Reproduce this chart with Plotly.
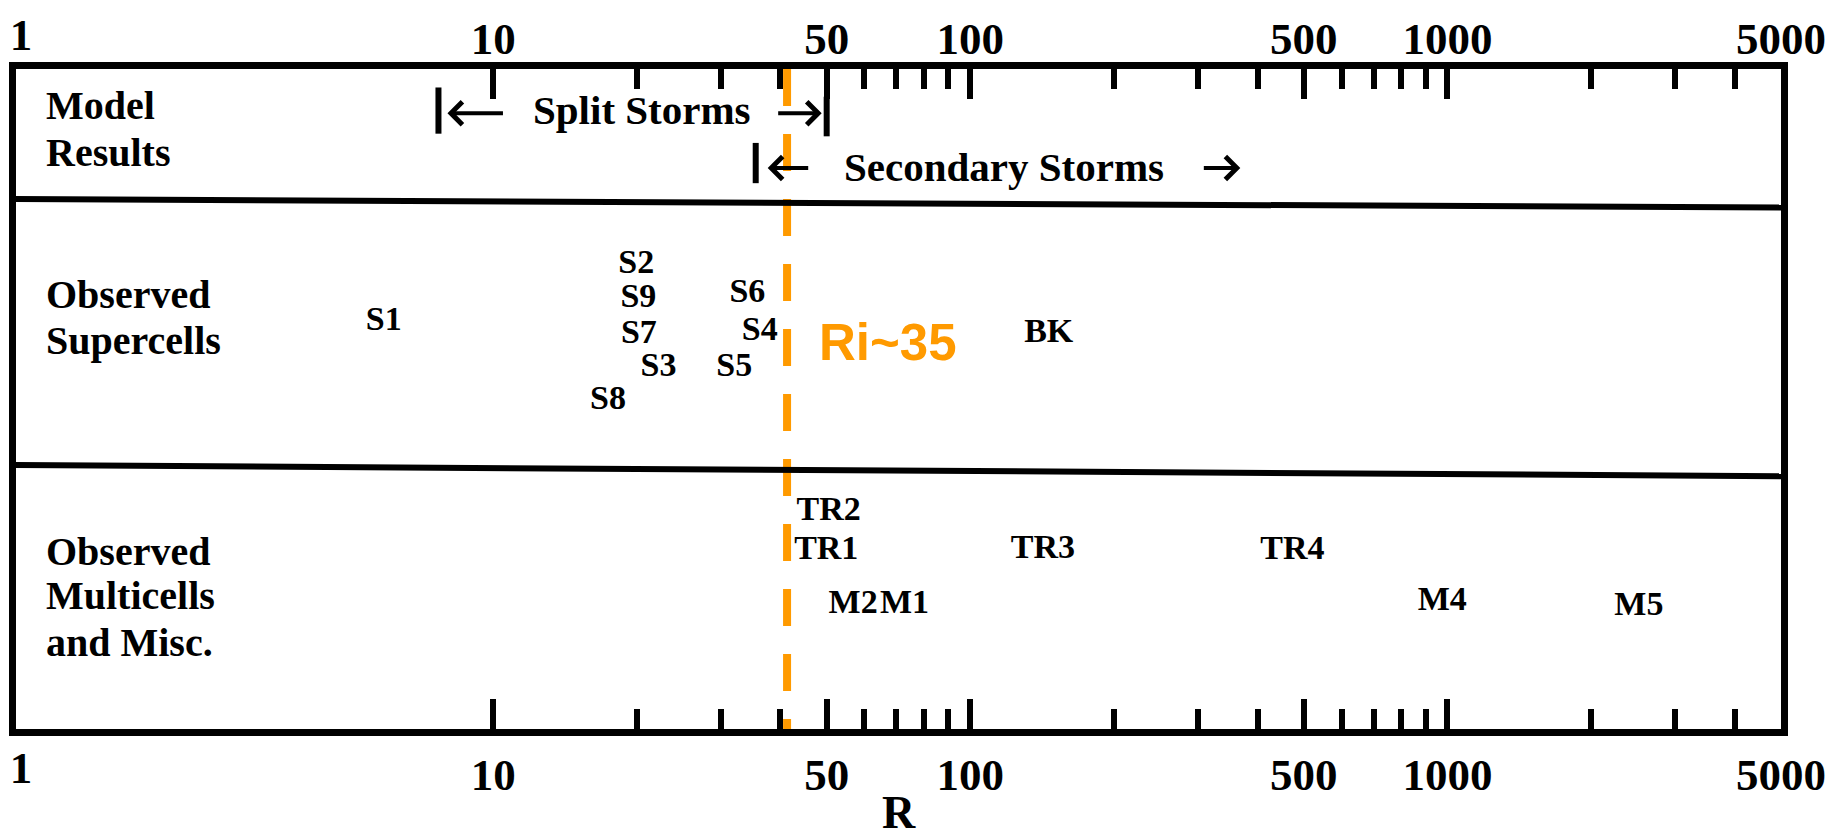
import math
import plotly.graph_objects as go

# ---------------- data ----------------
AXIS_MIN, AXIS_MAX = 1, 5000
TICK_LABEL_VALUES = [1, 10, 50, 100, 500, 1000, 5000]
MINOR_TICKS = [20, 30, 40, 60, 70, 80, 90, 200, 300, 400, 600, 700, 800, 900,
               2000, 3000, 4000]
AXIS_TITLE = "R"

SUPERCELL_NAMES = ["S1", "S2", "S9", "S6", "S7", "S4", "S3", "S5", "S8", "BK"]
SUPERCELL_R = [5.9, 19.95, 20.15, 34.1, 20.2, 36.2, 22.2, 32.0, 17.4, 146]
SUPERCELL_LEVEL = [61.7, 70.4, 65.2, 66.0, 59.8, 60.2, 54.7, 54.7, 49.7, 59.9]

MULTICELL_NAMES = ["TR2", "TR1", "TR3", "TR4", "M2", "M1", "M4", "M5"]
MULTICELL_R = [50.5, 49.9, 142, 473, 56.8, 72.8, 975, 2518]
MULTICELL_LEVEL = [33.0, 27.0, 27.2, 27.1, 18.9, 18.9, 19.3, 18.5]

MODEL_TEXT = ["Split Storms", "Secondary Storms"]
MODEL_TEXT_R = [20.5, 117.8]
SPLIT_STORMS_RANGE = [7.68, 50]
SECONDARY_STORMS_START = 35.5
SECONDARY_ARROW_END = 368
RI_CRITICAL = 41.3
RI_LABEL = "Ri~35"

ROW_LABEL_LINES = ["Model", "Results", "Observed", "Supercells",
                   "Observed", "Multicells", "and Misc."]
ROW_LABEL_LEVEL = [94.5, 87.4, 65.8, 58.8, 26.9, 20.2, 13.1]

# row layout (vertical levels, 0 = bottom frame, 100 = top frame)
SPLIT_LEVEL, SPLIT_TEXT_LEVEL = 93.3, 93.8
SECONDARY_LEVEL, SECONDARY_TEXT_LEVEL = 85.0, 85.15
DIVIDERS = [(80.3, 79.0), (40.0, 38.3)]

SERIF = "Liberation Serif"
SANS = "Liberation Sans"
ORANGE = "#FF9A00"
BLACK = "black"

fig = go.Figure()

label_font = dict(family=SERIF, size=34, color=BLACK, weight="bold")
fig.add_trace(go.Scatter(
    x=SUPERCELL_R, y=SUPERCELL_LEVEL, mode="text", text=SUPERCELL_NAMES,
    textposition="middle center", textfont=label_font,
    hoverinfo="skip", showlegend=False))
fig.add_trace(go.Scatter(
    x=MULTICELL_R, y=MULTICELL_LEVEL, mode="text", text=MULTICELL_NAMES,
    textposition="middle center", textfont=label_font,
    hoverinfo="skip", showlegend=False))

# range bars of the model results
bar_line = dict(color=BLACK, width=6)
fig.add_trace(go.Scatter(x=[SPLIT_STORMS_RANGE[0]] * 2, y=[97.2, 90.2], mode="lines",
                         line=bar_line, hoverinfo="skip", showlegend=False))
fig.add_trace(go.Scatter(x=[SPLIT_STORMS_RANGE[1]] * 2, y=[95.8, 89.8], mode="lines",
                         line=bar_line, hoverinfo="skip", showlegend=False))
fig.add_trace(go.Scatter(x=[SECONDARY_STORMS_START] * 2, y=[88.8, 82.7], mode="lines",
                         line=bar_line, hoverinfo="skip", showlegend=False))

# critical Ri line
fig.add_trace(go.Scatter(x=[RI_CRITICAL] * 2, y=[100, 0], mode="lines",
                         line=dict(color=ORANGE, width=8, dash="37px,28px"),
                         hoverinfo="skip", showlegend=False))

# dummy traces so overlay axes are drawn
for ax in ["x2", "x3", "x4", "x5"]:
    fig.add_trace(go.Scatter(x=[10], y=[-50], xaxis=ax, mode="markers",
                             marker=dict(opacity=0), hoverinfo="skip", showlegend=False))

annotations = []
txt_font = dict(family=SERIF, size=41, color=BLACK, weight="bold")
for t, r, lvl in zip(MODEL_TEXT, MODEL_TEXT_R, [SPLIT_TEXT_LEVEL, SECONDARY_TEXT_LEVEL]):
    annotations.append(dict(x=math.log10(r), y=lvl, xref="x", yref="y", text=t,
                            showarrow=False, font=txt_font, xanchor="center", yanchor="middle"))

arrow_style = dict(showarrow=True, arrowhead=4, arrowsize=1.1, arrowwidth=4,
                   arrowcolor=BLACK, text="", xref="x", yref="y", ay=0)
annotations.append(dict(x=math.log10(SPLIT_STORMS_RANGE[0]), y=SPLIT_LEVEL, ax=66,
                        standoff=9, **arrow_style))
annotations.append(dict(x=math.log10(SPLIT_STORMS_RANGE[1]), y=SPLIT_LEVEL, ax=-50,
                        standoff=5, **arrow_style))
annotations.append(dict(x=math.log10(SECONDARY_STORMS_START), y=SECONDARY_LEVEL, ax=54,
                        standoff=12, **arrow_style))
annotations.append(dict(x=math.log10(SECONDARY_ARROW_END), y=SECONDARY_LEVEL, ax=-38,
                        standoff=0, **arrow_style))

annotations.append(dict(x=math.log10(RI_CRITICAL), y=58.6, xref="x", yref="y",
                        text=RI_LABEL, showarrow=False, xanchor="left", yanchor="middle",
                        xshift=30,
                        font=dict(family=SANS, size=51, color=ORANGE, weight="bold")))

for t, lvl in zip(ROW_LABEL_LINES, ROW_LABEL_LEVEL):
    annotations.append(dict(x=0, y=lvl, xref="paper", yref="y", text=t, showarrow=False,
                            xanchor="left", yanchor="middle", xshift=28,
                            font=dict(family=SERIF, size=40, color=BLACK, weight="bold")))

# axis title
annotations.append(dict(x=0.5, y=0, xref="paper", yref="paper", text=AXIS_TITLE,
                        showarrow=False, xanchor="center", yanchor="middle", yshift=-83,
                        font=dict(family=SERIF, size=46, color=BLACK, weight="bold")))

shapes = [dict(type="line", xref="paper", yref="y", x0=0, x1=1, y0=a, y1=b,
               line=dict(color=BLACK, width=6)) for a, b in DIVIDERS]

tick_font = dict(family=SERIF, size=45, color=BLACK, weight="bold")
xr = [math.log10(AXIS_MIN), math.log10(AXIS_MAX)]


def labels(keep):
    return [str(v) if v in keep else "" for v in TICK_LABEL_VALUES]


common = dict(type="log", range=xr, showgrid=False, zeroline=False, automargin=False,
              tickfont=tick_font, tickvals=TICK_LABEL_VALUES, ticklabeloverflow="allow")
rest = [10, 50, 100, 500, 1000, 5000]

fig.update_layout(
    # the page adds an 8px body margin, so the figure is 8px smaller than the window
    width=1840, height=831,
    margin=dict(l=8, r=67, t=61, b=110, autoexpand=False),
    paper_bgcolor="white", plot_bgcolor="white",
    showlegend=False, hovermode=False,
    xaxis=dict(ticktext=labels(rest),
               ticks="inside", ticklen=30, tickwidth=6, tickcolor=BLACK,
               showline=True, linewidth=7, linecolor=BLACK, mirror="allticks",
               ticklabelstandoff=0, **common),
    xaxis4=dict(overlaying="x", side="bottom", anchor="y", ticktext=labels([1]),
                ticks="", showline=False, ticklabelstandoff=8, ticklabelshift=5, **common),
    xaxis2=dict(overlaying="x", side="top", anchor="y",
                ticktext=labels(rest), ticks="", showline=False,
                ticklabelstandoff=5, **common),
    xaxis5=dict(overlaying="x", side="top", anchor="y", ticktext=labels([1]),
                ticks="", showline=False, ticklabelstandoff=9, ticklabelshift=5, **common),
    xaxis3=dict(type="log", range=xr, overlaying="x", side="bottom", anchor="y",
                tickvals=MINOR_TICKS, showticklabels=False, ticks="inside",
                ticklen=20, tickwidth=6, tickcolor=BLACK, mirror="allticks",
                showline=True, linewidth=7, linecolor=BLACK,
                showgrid=False, zeroline=False, automargin=False),
    yaxis=dict(range=[0, 100], showline=True, linewidth=7, linecolor=BLACK,
               mirror=True, ticks="", showticklabels=False, showgrid=False,
               zeroline=False, automargin=False),
    annotations=annotations,
    shapes=shapes,
)

fig.write_html("out.html")
